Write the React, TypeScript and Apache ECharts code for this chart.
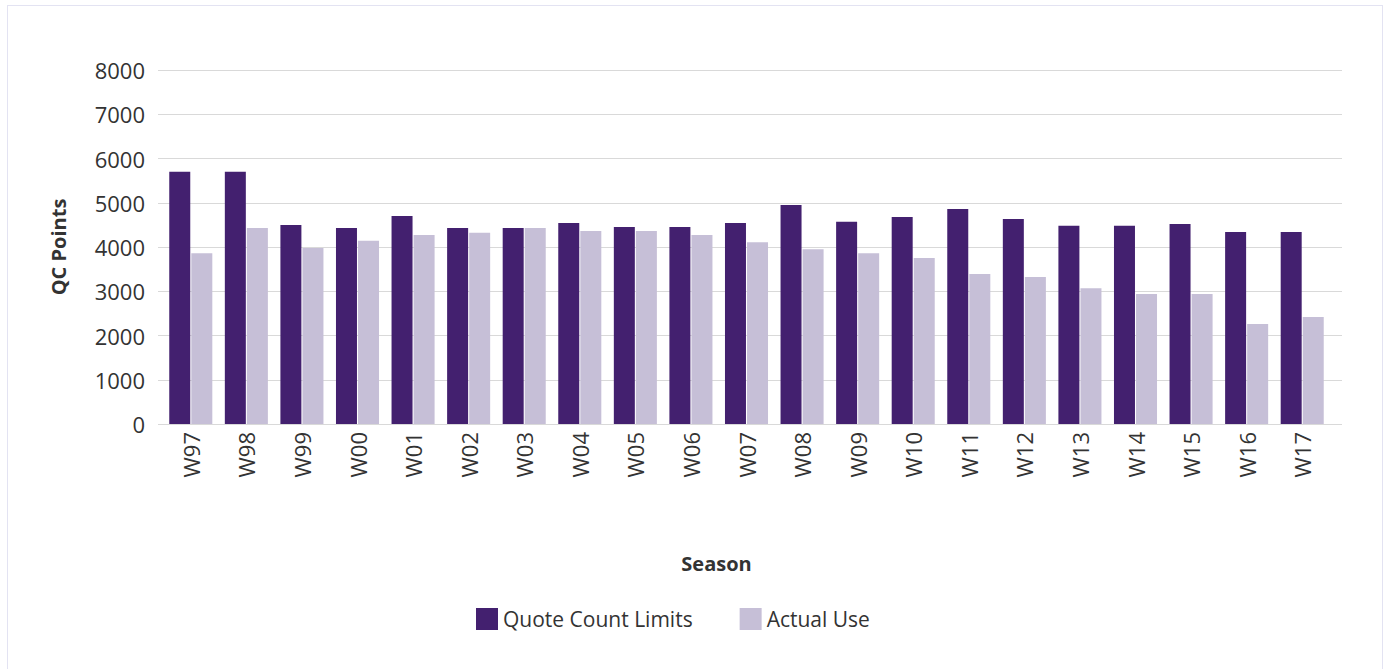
import React, { useEffect, useRef } from "react";
import * as echarts from "echarts";

const seasons = ["W97", "W98", "W99", "W00", "W01", "W02", "W03", "W04", "W05", "W06", "W07", "W08", "W09", "W10", "W11", "W12", "W13", "W14", "W15", "W16", "W17"];
const quoteCountLimits = [5700, 5700, 4500, 4430, 4700, 4430, 4430, 4540, 4450, 4450, 4540, 4950, 4570, 4680, 4860, 4630, 4480, 4480, 4520, 4340, 4340];
const actualUse = [3860, 4430, 3980, 4140, 4270, 4320, 4430, 4360, 4360, 4270, 4110, 3950, 3860, 3750, 3390, 3320, 3070, 2940, 2940, 2260, 2420];
const yTicks = { min: 0, max: 8000, interval: 1000 };

const FONT = "'Open Sans', 'Noto Sans', sans-serif";
const TEXT = "#333333";

export default function App() {
  const ref = useRef<HTMLDivElement>(null);
  useEffect(() => {
    if (!ref.current) return;
    const chart = echarts.init(ref.current, null, { renderer: "svg" });
    chart.setOption({
      animation: false,
      textStyle: { fontFamily: FONT },
      grid: [
        { left: 155, width: 1167, top: 64, height: 354, containLabel: false },
        { left: 150, width: 1184, top: 64, height: 354, containLabel: false },
      ],
      legend: {
        left: 463,
        top: 597,
        itemWidth: 22,
        itemHeight: 22,
        itemGap: 47,
        icon: "rect",
        textStyle: { fontSize: 21, color: TEXT, fontFamily: FONT },
        data: ["Quote Count Limits", "Actual Use"],
      },
      xAxis: [
        {
          type: "category",
          gridIndex: 0,
          data: seasons,
          name: "Season",
          nameLocation: "middle",
          nameGap: 129,
          nameTextStyle: { fontSize: 20, fontWeight: "bold", color: TEXT, fontFamily: FONT, padding: [0, 60, 0, 0] },
          axisLine: { show: false },
          axisTick: { show: false },
          axisLabel: { rotate: 90, fontSize: 22, color: TEXT, margin: 8, fontFamily: FONT },
        },
        {
          type: "value",
          gridIndex: 1,
          show: false,
          splitLine: { show: false },
        },
      ],
      yAxis: [
        {
          type: "value",
          gridIndex: 0,
          min: yTicks.min,
          max: yTicks.max,
          interval: yTicks.interval,
          name: "QC Points",
          nameLocation: "middle",
          nameGap: 95,
          nameTextStyle: { fontSize: 20, fontWeight: "bold", color: TEXT, fontFamily: FONT },
          axisLine: { show: false },
          axisTick: { show: false },
          axisLabel: { fontSize: 22, color: TEXT, margin: 18, fontFamily: FONT, formatter: (v: number) => String(v) },
          splitLine: { show: false },
        },
        {
          type: "value",
          gridIndex: 1,
          min: yTicks.min,
          max: yTicks.max,
          interval: yTicks.interval,
          axisLine: { show: false },
          axisTick: { show: false },
          axisLabel: { show: false },
          splitLine: { lineStyle: { color: "#d9d9d9", width: 1 } },
          z: 0,
        },
      ],
      series: [
        {
          name: "Quote Count Limits",
          type: "bar",
          xAxisIndex: 0,
          yAxisIndex: 0,
          data: quoteCountLimits,
          itemStyle: { color: "#43206f" },
          barWidth: 21,
          barGap: "5%",
          z: 3,
        },
        {
          name: "Actual Use",
          type: "bar",
          xAxisIndex: 0,
          yAxisIndex: 0,
          data: actualUse,
          itemStyle: { color: "#c6bfd7" },
          barWidth: 21,
          barGap: "5%",
          z: 3,
        },
      ],
    });
    return () => chart.dispose();
  }, []);
  return (
    <div
      style={{
        position: "fixed",
        left: 7,
        top: 5,
        width: 1374,
        height: 680,
        border: "1px solid #e3e3f2",
        background: "#fff",
      }}
    >
      <div ref={ref} style={{ width: 1374, height: 680 }} />
    </div>
  );
}
